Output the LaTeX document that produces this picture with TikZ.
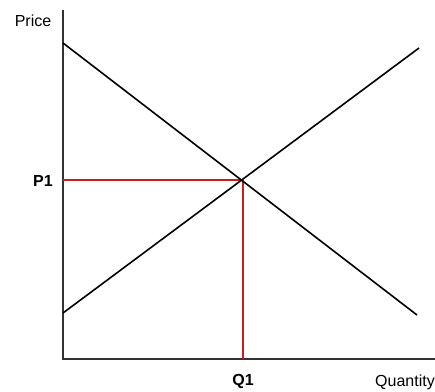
\documentclass[tikz,border=0pt]{standalone}
\usepackage{fontspec}
\setmainfont{Liberation Sans}
\definecolor{pricered}{RGB}{200,30,30}
\tikzset{
  axis/.style={draw=black!80, line width=1.2pt},
  curve/.style={draw=black, line width=1.6pt},
  guide/.style={draw=pricered, line width=1.2pt},
  lbl/.style={font=\fontsize{16}{19}\selectfont, inner sep=0pt},
}
\begin{document}
\begin{tikzpicture}[x=1pt, y=-1pt]
    % frame = reference image size in px
    \useasboundingbox (0,0) rectangle (435,391);
    \coordinate (origin) at (63,359);
    \coordinate (ytop) at (63,10);
    \coordinate (xend) at (435,359);
    \coordinate (dstart) at (63,43);
    \coordinate (dend) at (417,315);
    \coordinate (sstart) at (63,313);
    \coordinate (send) at (419,48);
    \coordinate (eq) at (243,180);
    \coordinate (peq) at (63,180);
    \coordinate (qeq) at (243,359);
    \draw[axis] (ytop) -- (origin) -- (xend);
    \draw[guide] (peq) -- (eq);
    \draw[guide] (eq) -- (qeq);
    \draw[curve] (dstart) -- (dend);
    \draw[curve] (sstart) -- (send);
    \node[lbl] (price) at (33,21) {Price};
    \node[lbl, font=\fontsize{16}{19}\selectfont\bfseries] (plabel) at (43,181) {P1};
    \node[lbl, font=\fontsize{16}{19}\selectfont\bfseries] (qlabel) at (243,381) {Q1};
    \node[lbl, anchor=west] (quantity) at (375,382) {Quantity};
  \end{tikzpicture}
\end{document}
